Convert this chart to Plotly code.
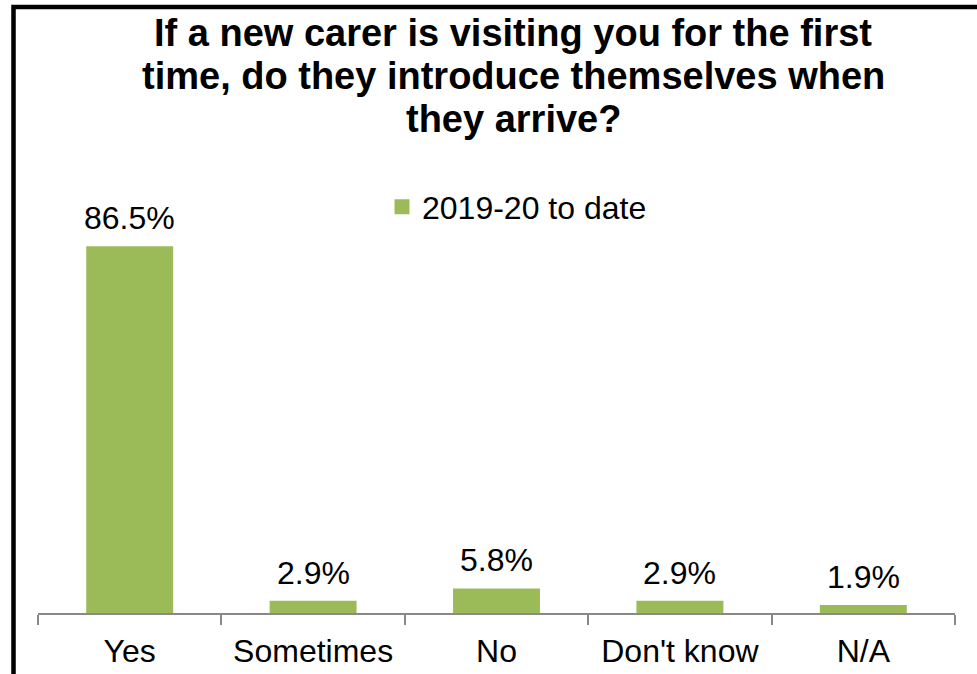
import plotly.graph_objects as go

# Survey responses
categories = ["Yes", "Sometimes", "No", "Don't know", "N/A"]
values = [86.5, 2.9, 5.8, 2.9, 1.9]
series_name = "2019-20 to date"
title_lines = [
    "If a new carer is visiting you for the first",
    "time, do they introduce themselves when",
    "they arrive?",
]

W, H = 977, 674
M_L, M_R, M_T, M_B = 38, 22, 189, 61
plot_h = H - M_T - M_B
plot_w = W - M_L - M_R


def py_to_paper(py):
    return (H - M_B - py) / plot_h


def px_to_paper(px):
    return (px - M_L) / plot_w


FONT = "Liberation Sans, Arial, sans-serif"
GREEN = "#9BBB59"
TXT = 32

fig = go.Figure()
fig.add_trace(go.Bar(
    x=categories,
    y=values,
    name=series_name,
    marker=dict(color=GREEN, line=dict(width=0)),
    showlegend=False,
))
# Legend key with a larger square swatch
fig.add_trace(go.Scatter(
    x=[None], y=[None],
    mode="markers",
    name=series_name,
    marker=dict(symbol="square", size=15, color=GREEN),
    showlegend=True,
))

# Value labels above each bar
for cat, v in zip(categories, values):
    fig.add_annotation(
        x=cat, y=v, xref="x", yref="y",
        text=f"{v:.1f}%",
        showarrow=False,
        xanchor="center", yanchor="bottom",
        yshift=8,
        font=dict(size=TXT, color="#000000", family=FONT),
    )

# Title, one annotation per line
title_centers = [33, 76, 119]
for line, cy in zip(title_lines, title_centers):
    fig.add_annotation(
        text=f"<b>{line}</b>",
        xref="paper", yref="paper",
        x=px_to_paper(513), y=py_to_paper(cy),
        xanchor="center", yanchor="middle",
        showarrow=False,
        font=dict(size=38, color="#000000", family=FONT),
    )

# Chart frame
fig.add_shape(
    type="rect", xref="paper", yref="paper",
    x0=px_to_paper(13.5), x1=px_to_paper(W + 20),
    y0=py_to_paper(H + 20), y1=py_to_paper(7),
    line=dict(color="#000000", width=4.5),
    fillcolor="rgba(0,0,0,0)",
    layer="above",
)

fig.update_layout(
    width=W, height=H,
    margin=dict(l=M_L, r=M_R, t=M_T, b=M_B),
    paper_bgcolor="#ffffff",
    plot_bgcolor="#ffffff",
    font=dict(family=FONT, color="#000000"),
    bargap=0.526,
    showlegend=True,
    legend=dict(
        orientation="h",
        x=px_to_paper(382), y=py_to_paper(207),
        xanchor="left", yanchor="middle",
        font=dict(size=TXT, family=FONT, color="#000000"),
        bgcolor="rgba(0,0,0,0)",
    ),
    xaxis=dict(
        type="category",
        automargin=False,
        showline=True, linecolor="#898989", linewidth=1.5,
        ticks="outside", tickson="boundaries", ticklen=10,
        tickcolor="#898989", tickwidth=1.5,
        ticklabelstandoff=9,
        tickfont=dict(size=TXT, family=FONT, color="#000000"),
        showgrid=False,
    ),
    yaxis=dict(
        range=[0, 100],
        visible=False,
        automargin=False,
        showgrid=False,
        zeroline=False,
    ),
)

fig.write_html("out.html")
